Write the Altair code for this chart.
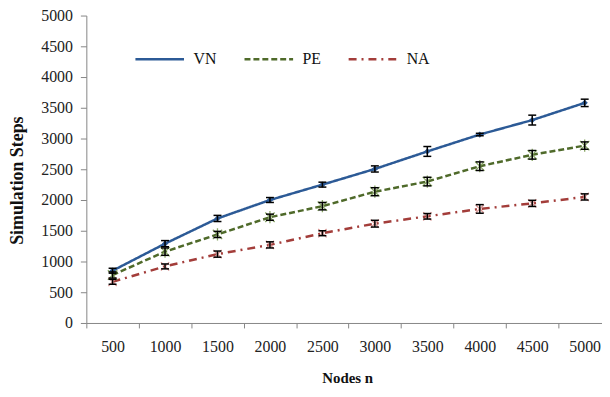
import altair as alt
import pandas as pd

nodes = [500, 1000, 1500, 2000, 2500, 3000, 3500, 4000, 4500, 5000]
series_names = ["VN", "PE", "NA"]
vn = [850, 1290, 1700, 2000, 2250, 2505, 2790, 3065, 3300, 3580]
pe = [780, 1160, 1440, 1720, 1900, 2135, 2300, 2550, 2735, 2885]
na = [670, 920, 1120, 1270, 1460, 1615, 1735, 1855, 1945, 2050]
vn_err = [40, 50, 50, 40, 40, 50, 80, 20, 80, 60]
pe_err = [50, 60, 50, 50, 60, 65, 70, 70, 70, 60]
na_err = [40, 40, 50, 50, 40, 55, 45, 70, 50, 50]
y_ticks = [0, 500, 1000, 1500, 2000, 2500, 3000, 3500, 4000, 4500, 5000]
x_bounds = [250, 750, 1250, 1750, 2250, 2750, 3250, 3750, 4250, 4750]

rows = []
for name, vals, errs in [("VN", vn, vn_err), ("PE", pe, pe_err), ("NA", na, na_err)]:
    for n, v, e in zip(nodes, vals, errs):
        rows.append({"series": name, "n": n, "v": v, "lo": v - e, "hi": v + e})
df = pd.DataFrame(rows)

FONT = "Times New Roman, Liberation Serif, DejaVu Serif, serif"
line_colors = ["#2C5A96", "#4F6A2A", "#A33D3A"]

x_axis = alt.Axis(
    title="Nodes n",
    values=x_bounds,
    labelExpr="toString(datum.value + 250)",
    labelOffset=26.45,
    labelPadding=11,
    tickSize=5,
    grid=False,
    labelOverlap=False,
    labelFlush=False,
    titleX=263,
    titleY=55,
    titleBaseline="middle",
    titleFontSize=15,
)
y_axis = alt.Axis(
    title="Simulation Steps",
    values=y_ticks,
    labelExpr="toString(datum.value)",
    tickSize=6,
    labelPadding=8,
    grid=False,
    labelOverlap=False,
    labelSeparation=0,
    labelFlush=False,
    titleX=-69,
    titleY=166,
    titleBaseline="middle",
    titleAngle=-90,
    titleFontSize=18,
)
x_scale = alt.Scale(domain=[250, 5165], nice=False, zero=False)
y_scale = alt.Scale(domain=[0, 5000], nice=False)


def X(field):
    return alt.X(field, type="quantitative", scale=x_scale, axis=x_axis)


def Y(field):
    return alt.Y(field, type="quantitative", scale=y_scale, axis=y_axis)


base = alt.Chart(df)

lines = base.mark_line(strokeWidth=2.5).encode(
    x=X("n"),
    y=Y("v"),
    color=alt.Color(
        "series:N",
        scale=alt.Scale(domain=series_names, range=line_colors),
        legend=alt.Legend(
            title=None,
            orient="none",
            direction="horizontal",
            legendX=48,
            legendY=18,
            symbolType="stroke",
            symbolSize=2400,
            symbolStrokeWidth=2.5,
            labelFont=FONT,
            labelFontSize=16,
            labelColor="#111111",
            labelOffset=8,
            columnPadding=22,
        ),
    ),
    strokeDash=alt.StrokeDash(
        "series:N",
        scale=alt.Scale(domain=series_names, range=[[1, 0], [6, 3], [8, 5, 2, 5]]),
        legend=alt.Legend(title=None, orient="none", legendX=48, legendY=18),
    ),
    detail="series:N",
)

vn_pts = base.transform_filter(alt.datum.series == "VN").mark_point(
    shape="diamond", filled=True, size=40, color="#2C5A96", opacity=1
).encode(x=X("n"), y=Y("v"))

pe_pts = base.transform_filter(alt.datum.series == "PE").mark_point(
    shape="M-1,-1L1,1M1,-1L-1,1M0,-1.3L0,1.3",
    filled=False,
    size=90,
    stroke="#8AA866",
    strokeWidth=1.3,
    opacity=1,
).encode(x=X("n"), y=Y("v"))

na_pts = base.transform_filter(alt.datum.series == "NA").mark_point(
    shape="M-1,-1L1,1M1,-1L-1,1",
    filled=False,
    size=70,
    stroke="#D99694",
    strokeWidth=1.3,
    opacity=1,
).encode(x=X("n"), y=Y("v"))

err_rule = base.mark_rule(color="black", strokeWidth=1.5).encode(
    x=X("n"), y=Y("lo"), y2="hi:Q"
)
cap_lo = base.mark_tick(orient="horizontal", color="black", size=8, thickness=1.5, opacity=1).encode(
    x=X("n"), y=Y("lo")
)
cap_hi = base.mark_tick(orient="horizontal", color="black", size=8, thickness=1.5, opacity=1).encode(
    x=X("n"), y=Y("hi")
)

chart = (
    alt.layer(lines, vn_pts, pe_pts, na_pts, err_rule, cap_lo, cap_hi)
    .properties(
        width=520,
        height=310,
        autosize=alt.AutoSizeParams(type="none"),
        padding={"left": 79, "top": 6, "right": 0, "bottom": 70},
    )
    .configure_view(stroke=None)
    .configure_axis(
        domainColor="#868686",
        tickColor="#868686",
        domainWidth=1,
        tickWidth=1,
        labelFont=FONT,
        labelFontSize=16,
        labelColor="#222222",
        titleFont=FONT,
        titleFontWeight="bold",
        titleColor="#111111",
    )
    .configure_axisY(labelOverlap=False)
    .configure_legend(labelFont=FONT)
)

chart.save("out.html", embed_options={"renderer": "svg", "actions": False})
